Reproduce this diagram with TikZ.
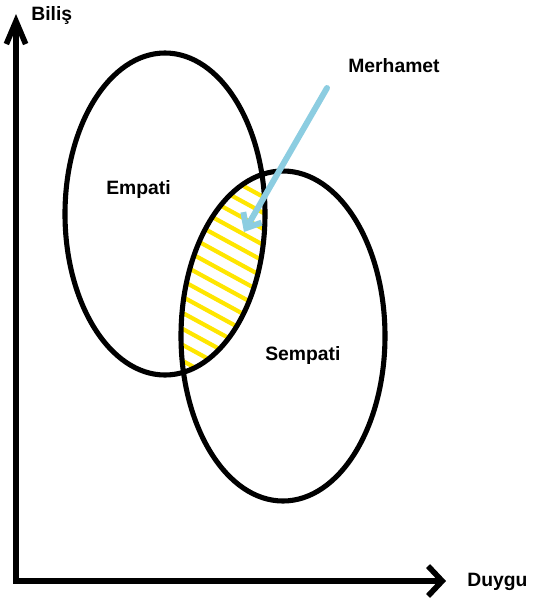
\documentclass[tikz,border=0pt]{standalone}
\usepackage{xcolor}
\usepackage{tikz}
\usepackage{fontspec}
\setmainfont{Liberation Sans}
\usetikzlibrary{arrows.meta}
\definecolor{merhametBlue}{HTML}{8CCDE1}
\definecolor{hatchYellow}{HTML}{FFE600}
\definecolor{penInk}{HTML}{000000}

\begin{document}
\begin{tikzpicture}[x=0.02cm, y=-0.02cm,
    word/.style={font=\fontsize{11}{13}\selectfont\bfseries, anchor=west, inner sep=0pt}]
  \useasboundingbox (0,0) rectangle (534,606);
  % Axes
  \coordinate (origin) at (16,581);
  \coordinate (bilisTip) at (16,14);
  \coordinate (duyguTip) at (446,581);
  \draw[penInk, line width=3.2pt, line join=miter,
    {Straight Barb[length=13pt, width=11pt]}-{Straight Barb[length=8pt, width=17pt]}]
    (bilisTip) -- (origin) -- (duyguTip);
  \node[word] (bilis) at (31,15) {Biliş};
  \node[word] (duygu) at (467,582) {Duygu};
  % Yellow hatching in the overlap
  \begin{scope}
    \clip (165,214) ellipse [x radius=100, y radius=161];
    \clip (283,336) ellipse [x radius=102, y radius=165];
    \foreach \c in {54,70,...,262}
      \draw[hatchYellow, line width=2.4pt, line cap=round]
        (170,\c+92) -- (280,\c+152);
  \end{scope}
  % Empati and Sempati
  \draw[penInk, line width=2.9pt] (165,214) ellipse [x radius=100, y radius=161];
  \draw[penInk, line width=2.9pt] (283,336) ellipse [x radius=102, y radius=165];
  \node[word] (empati) at (106,189) {Empati};
  \node[word] (sempati) at (265,355) {Sempati};
  % Merhamet pointer
  \node[word] (merhamet) at (348,66) {Merhamet};
  \coordinate (pointerStart) at (327,88);
  \coordinate (pointerEnd) at (244,232);
  \draw[merhametBlue, line width=3.4pt, line cap=round,
    -{Straight Barb[length=7pt, width=12pt]}] (pointerStart) -- (pointerEnd);
\end{tikzpicture}
\end{document}
